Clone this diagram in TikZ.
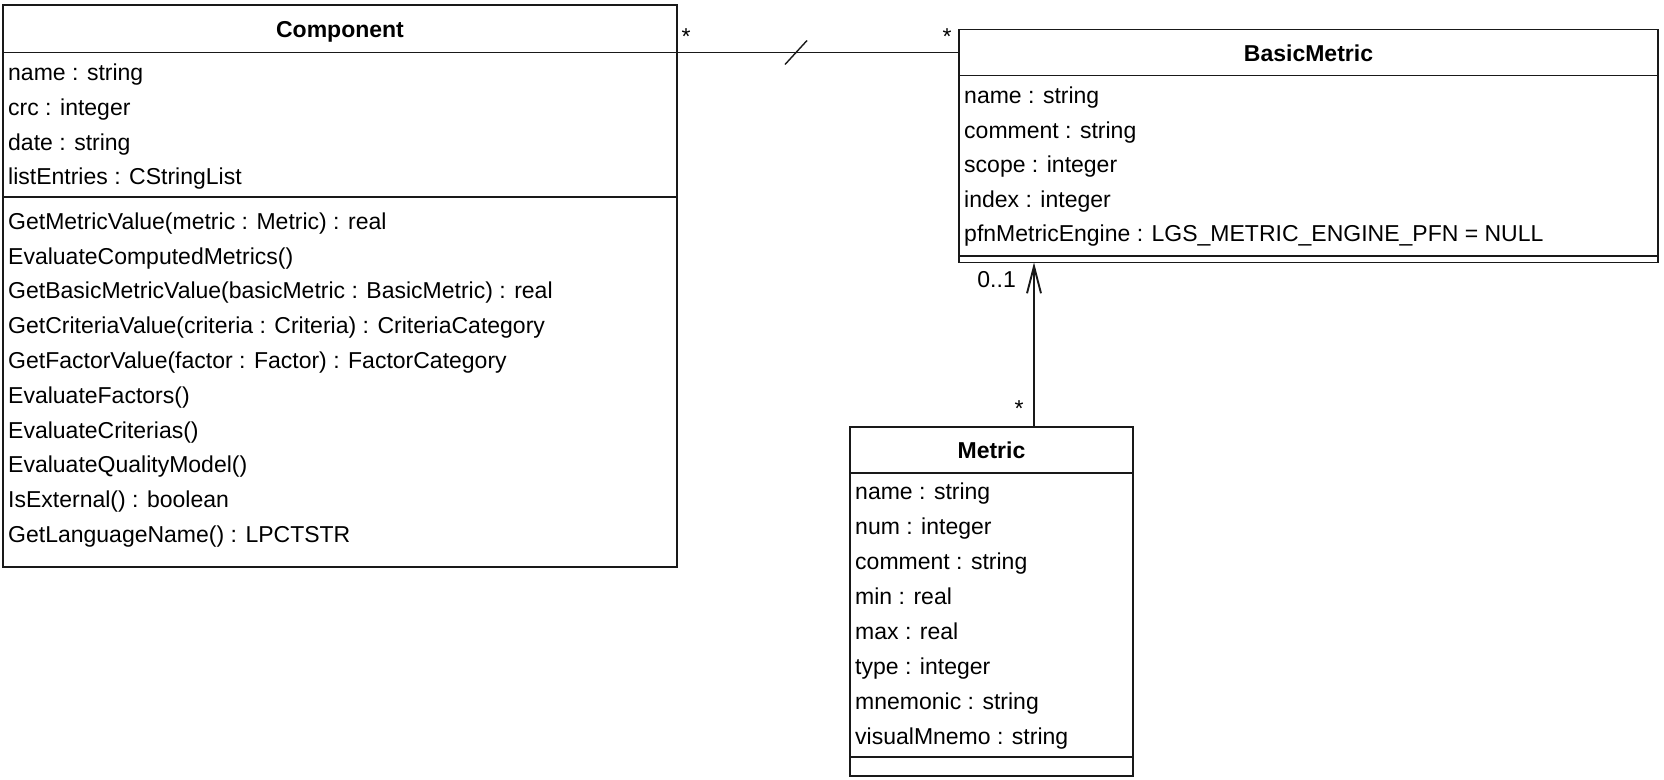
\documentclass[tikz,border=0pt]{standalone}
\usepackage{fontspec}
\setmainfont{Liberation Sans}
\usetikzlibrary{arrows.meta}
\begin{document}
\begin{tikzpicture}[x=1pt,y=-1pt,
  box/.style={draw=black!90, line width=1.9pt, rectangle, inner sep=0pt, outer sep=0pt, anchor=north west},
  sepline/.style={draw=black!90, line width=1.9pt},
  row/.style={anchor=base west, inner sep=0pt, font=\fontsize{23}{27}\selectfont},
  title/.style={anchor=base, inner sep=0pt, font=\fontsize{23}{27}\selectfont\bfseries},
  mult/.style={inner sep=0pt, font=\fontsize{23}{27}\selectfont},
  assoc/.style={draw=black!90, line width=1.9pt}]
\useasboundingbox (0,0) rectangle (1664,779);

% ---------- Component ----------
\node[box, minimum width=674pt, minimum height=562pt] (comp) at (3,5) {};
\node[box, minimum width=674pt, minimum height=47.5pt] (comphead) at (3,5) {};
\node[title] (comptitle) at (340,37.5) {Component};
\draw[sepline] (3,197) -- (677,197);
\foreach \t [count=\i] in {name : string, crc : integer, date : string, listEntries : CStringList}
  \node[row] (ca\i) at (8,{80.5+34.8*(\i-1)}) {\t};
\foreach \t [count=\i] in {GetMetricValue(metric : Metric) : real, EvaluateComputedMetrics(),
  GetBasicMetricValue(basicMetric : BasicMetric) : real, GetCriteriaValue(criteria : Criteria) : CriteriaCategory,
  GetFactorValue(factor : Factor) : FactorCategory, EvaluateFactors(), EvaluateCriterias(),
  EvaluateQualityModel(), IsExternal() : boolean, GetLanguageName() : LPCTSTR}
  \node[row] (cm\i) at (8,{229.3+34.8*(\i-1)}) {\t};

% ---------- BasicMetric ----------
\node[box, minimum width=699pt, minimum height=233pt] (bm) at (959,29.5) {};
\node[box, minimum width=699pt, minimum height=46pt] (bmhead) at (959,29.5) {};
\node[title] (bmtitle) at (1308.5,61) {BasicMetric};
\draw[sepline] (959,256) -- (1658,256);
\foreach \t [count=\i] in {name : string, comment : string, scope : integer, index : integer,
  pfnMetricEngine : LGS\_METRIC\_ENGINE\_PFN = NULL}
  \node[row] (ba\i) at (964,{103.5+34.6*(\i-1)}) {\t};

% ---------- Metric ----------
\node[box, minimum width=283pt, minimum height=349.3pt] (met) at (850,426.7) {};
\node[box, minimum width=283pt, minimum height=46pt] (methead) at (850,426.7) {};
\node[title] (mettitle) at (991.5,458.3) {Metric};
\draw[sepline] (850,757.3) -- (1133,757.3);
\foreach \t [count=\i] in {name : string, num : integer, comment : string, min : real, max : real,
  type : integer, mnemonic : string, visualMnemo : string}
  \node[row] (ma\i) at (855,{499.3+35*(\i-1)}) {\t};

% ---------- Associations ----------
\draw[assoc] (comphead.south east) -- coordinate[pos=0.422] (slash) (bmhead.west);
\draw[draw=black!90, line width=1.4pt] (slash) ++(-11,12) -- ++(22,-24);
\node[mult, anchor=base] (m1) at (686,44.5) {*};
\node[mult, anchor=base] (m2) at (947,44.5) {*};

\coordinate (ax) at (1034,0);
\draw[assoc, -{Straight Barb[length=27pt,width=14pt]}] (met.north -| ax) -- (bm.south -| ax);
\node[mult, anchor=base east] (m3) at (1016,287.5) {0..1};
\node[mult, anchor=base] (m4) at (1019,416) {*};
\end{tikzpicture}
\end{document}
